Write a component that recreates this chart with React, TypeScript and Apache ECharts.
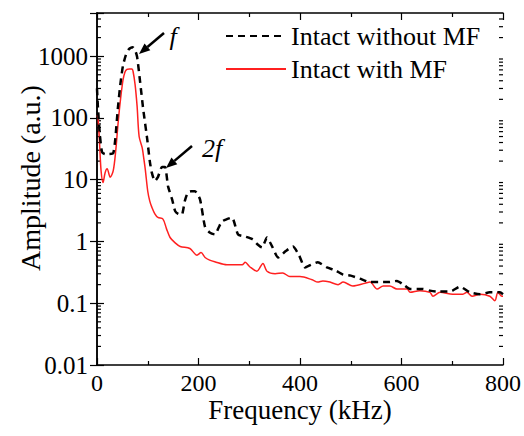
import React, { useEffect, useRef } from "react";
import * as echarts from "echarts";

const freqWithoutMF = [0, 2, 6, 10, 16, 24, 32, 36, 41, 46, 51, 57, 63, 70, 75, 79, 85, 91, 99, 104, 108, 114, 120, 128, 134, 140, 148, 154, 160, 167, 173, 179, 186, 193, 203, 213, 222, 232, 240, 246, 256, 266, 278, 292, 307, 316, 325, 335, 345, 357, 372, 386, 398, 410, 422, 435, 453, 470, 485, 500, 518, 538, 558, 575, 591, 604, 617, 642, 656, 670, 696, 715, 735, 755, 774, 794, 800];
const ampWithoutMF = [300, 140, 50, 28, 26, 26, 27, 45, 140, 350, 690, 1050, 1300, 1400, 1250, 980, 380, 140, 45, 20, 13, 9.5, 11, 16, 16, 7.8, 4.8, 3.1, 2.8, 2.7, 4.5, 6.2, 6.5, 6.5, 4.8, 1.7, 1.4, 1.3, 1.7, 2.1, 2.3, 2.45, 1.3, 1.2, 1.08, 0.9, 0.8, 1.16, 0.83, 0.55, 0.7, 0.83, 0.6, 0.38, 0.42, 0.46, 0.38, 0.34, 0.29, 0.28, 0.25, 0.22, 0.22, 0.22, 0.23, 0.2, 0.17, 0.17, 0.16, 0.155, 0.155, 0.185, 0.15, 0.14, 0.15, 0.15, 0.14];

const freqWithMF = [0, 2, 5, 8, 12, 16, 20, 26, 32, 37, 41, 45, 51, 55, 59, 64, 69, 71, 75, 79, 83, 89, 91, 95, 100, 104, 108, 114, 120, 130, 137, 144, 154, 164, 183, 197, 205, 213, 222, 232, 256, 268, 286, 292, 301, 315, 327, 335, 351, 366, 380, 400, 424, 435, 445, 459, 475, 485, 504, 528, 538, 552, 564, 577, 591, 611, 617, 636, 656, 662, 676, 701, 721, 729, 739, 755, 774, 784, 790, 798, 800];
const ampWithMF = [110, 100, 40, 14, 9, 13, 15, 11, 14, 30, 73, 160, 400, 550, 610, 620, 620, 570, 350, 155, 50, 33, 26, 15, 6.5, 4.5, 3.6, 2.8, 2.45, 2.3, 1.6, 1.16, 0.95, 0.83, 0.77, 0.6, 0.66, 0.55, 0.5, 0.47, 0.42, 0.42, 0.42, 0.46, 0.39, 0.33, 0.44, 0.33, 0.3, 0.31, 0.27, 0.27, 0.24, 0.22, 0.23, 0.22, 0.2, 0.22, 0.19, 0.21, 0.22, 0.17, 0.19, 0.19, 0.17, 0.17, 0.15, 0.16, 0.15, 0.13, 0.15, 0.14, 0.14, 0.15, 0.13, 0.14, 0.13, 0.11, 0.15, 0.13, 0.13];

const seriesNames = ["Intact without MF", "Intact with MF"];
const xMin = 0;
const xMax = 800;
const xInterval = 200;
const yMin = 0.01;
const yMax = 5000;
const minorMultipliers = [2, 3, 4, 5, 6, 7, 8, 9];
const FONT = "Liberation Serif";

export default function App() {
  const ref = useRef<HTMLDivElement>(null);
  useEffect(() => {
    document.body.style.margin = "0";
    const chart = echarts.init(ref.current!, null, { renderer: "svg" });
    const axisLine = { show: true, lineStyle: { color: "#000", width: 1.5 } };
    const isDecade = (v: number) => {
      const l = Math.log10(v);
      return Math.abs(l - Math.round(l)) < 1e-6;
    };
    const fmtY = (v: number) => {
      if (!isDecade(v)) return "";
      const e = Math.round(Math.log10(v));
      return e < 0 ? v.toFixed(-e) : String(Math.round(v));
    };
    const xAxisBase = {
      type: "value",
      min: xMin,
      max: xMax,
      interval: xInterval,
      axisLine,
      splitLine: { show: false },
      axisTick: { show: true, inside: true, length: 7, lineStyle: { color: "#000", width: 1.2 } },
      minorTick: { show: true, splitNumber: 2, length: 4, lineStyle: { color: "#000", width: 1.2 } },
    };
    const yAxisBase = {
      type: "log",
      logBase: 10,
      min: yMin,
      max: yMax,
      splitNumber: 6,
      axisLine,
      splitLine: { show: false },
      axisTick: { show: true, inside: true, length: 7, lineStyle: { color: "#000", width: 1.2 } },
    };
    chart.setOption({
      animation: false,
      backgroundColor: "#fff",
      textStyle: { fontFamily: FONT },
      grid: { left: 97, right: 21, top: 13, bottom: 71, containLabel: false, outerBoundsMode: "none" },
      xAxis: [
        {
          ...xAxisBase,
          position: "bottom",
          name: "Frequency (kHz)",
          nameLocation: "middle",
          nameGap: 31,
          nameMoveOverlap: false,
          nameTextStyle: { fontFamily: FONT, fontSize: 27, color: "#000" },
          axisLabel: { fontFamily: FONT, fontSize: 24, color: "#000", margin: 6 },
        },
        { ...xAxisBase, position: "top", axisLabel: { show: false } },
      ],
      yAxis: [
        {
          ...yAxisBase,
          position: "left",
          name: "Amplitude (a.u.)",
          nameLocation: "middle",
          nameGap: 53,
          nameMoveOverlap: false,
          nameTextStyle: { fontFamily: FONT, fontSize: 28, color: "#000", padding: [0, 0, 0, 22] },
          axisLabel: { fontFamily: FONT, fontSize: 25, color: "#000", margin: 9, formatter: fmtY },
        },
        { ...yAxisBase, position: "right", axisLabel: { show: false } },
      ],
      legend: {
        data: seriesNames,
        orient: "vertical",
        left: 220,
        top: 18,
        itemWidth: 60,
        itemHeight: 14,
        itemGap: 7,
        itemStyle: { opacity: 0 },
        textStyle: { fontFamily: FONT, fontSize: 26, color: "#000" },
      },
      series: [
        {
          name: seriesNames[1],
          type: "line",
          symbol: "none",
          smooth: 0.3,
          data: freqWithMF.map((f, i) => [f, ampWithMF[i]]),
          lineStyle: { color: "#ff2020", width: 1.5 },
          itemStyle: { color: "#ff2020" },
        },
        {
          name: seriesNames[0],
          type: "line",
          symbol: "none",
          smooth: 0.2,
          data: freqWithoutMF.map((f, i) => [f, ampWithoutMF[i]]),
          lineStyle: { color: "#000", width: 2.5, type: [7, 5] },
          itemStyle: { color: "#000" },
        },
      ],
    });

    const graphics: any[] = [];
    const xL = chart.convertToPixel({ xAxisIndex: 0 }, xMin) as number;
    const xR = chart.convertToPixel({ xAxisIndex: 0 }, xMax) as number;
    for (let d = -2; d <= 3; d++) {
      for (const m of minorMultipliers) {
        const v = m * Math.pow(10, d);
        if (v >= yMax) continue;
        const y = chart.convertToPixel({ yAxisIndex: 0 }, v) as number;
        graphics.push({ type: "line", shape: { x1: xL, y1: y, x2: xL + 4, y2: y }, style: { stroke: "#000", lineWidth: 1.2 } });
        graphics.push({ type: "line", shape: { x1: xR - 4, y1: y, x2: xR, y2: y }, style: { stroke: "#000", lineWidth: 1.2 } });
      }
    }
    const arrow = (x1: number, y1: number, x2: number, y2: number) => {
      const dx = x2 - x1, dy = y2 - y1;
      const len = Math.hypot(dx, dy);
      const ux = dx / len, uy = dy / len;
      const hl = 11, hw = 4.5;
      const bx = x2 - ux * hl, by = y2 - uy * hl;
      graphics.push({ type: "line", shape: { x1, y1, x2: bx, y2: by }, style: { stroke: "#000", lineWidth: 2.5 } });
      graphics.push({
        type: "polygon",
        shape: { points: [[x2, y2], [bx - uy * hw, by + ux * hw], [bx + uy * hw, by - ux * hw]] },
        style: { fill: "#000" },
      });
    };
    arrow(164, 33, 139, 54);
    arrow(192, 146, 166, 168);
    graphics.push({
      type: "text", x: 173, y: 36,
      style: { text: "f", fontFamily: FONT, fontStyle: "italic", fontSize: 26, fill: "#000", align: "center", verticalAlign: "middle" },
    });
    graphics.push({
      type: "text", x: 212, y: 148,
      style: { text: "2f", fontFamily: FONT, fontStyle: "italic", fontSize: 26, fill: "#000", align: "center", verticalAlign: "middle" },
    });
    chart.setOption({ graphic: graphics });
    return () => chart.dispose();
  }, []);
  return <div ref={ref} style={{ width: 524, height: 436 }} />;
}
